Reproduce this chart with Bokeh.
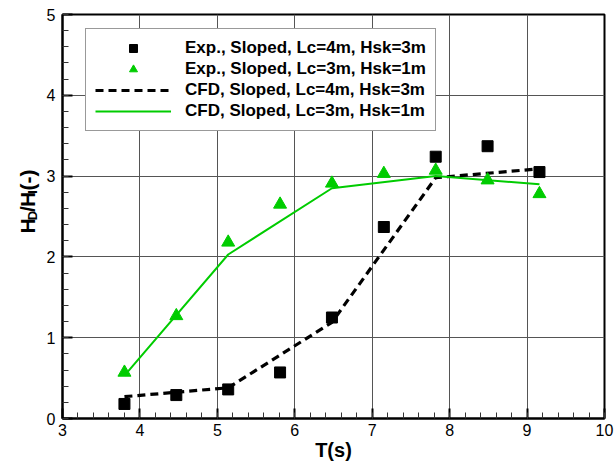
import math
from bokeh.plotting import figure
from bokeh.layouts import row
from bokeh.models import Range1d, SingleIntervalTicker, Legend, LegendItem
from bokeh.core.properties import value
from bokeh.embed import file_html
from bokeh.resources import INLINE

# ---- data ----
t_exp = [3.80, 4.47, 5.14, 5.81, 6.48, 7.15, 7.82, 8.49, 9.16]
hd_exp_lc4 = [0.18, 0.29, 0.36, 0.57, 1.25, 2.37, 3.24, 3.37, 3.05]
hd_exp_lc3 = [0.57, 1.27, 2.18, 2.65, 2.91, 3.03, 3.07, 2.95, 2.78]
t_cfd = [3.80, 5.14, 6.48, 7.82, 9.16]
hd_cfd_lc4 = [0.27, 0.38, 1.19, 2.98, 3.09]
hd_cfd_lc3 = [0.53, 2.03, 2.85, 3.00, 2.90]

labels = ["Exp., Sloped, Lc=4m, Hsk=3m",
          "Exp., Sloped, Lc=3m, Hsk=1m",
          "CFD, Sloped, Lc=4m, Hsk=3m",
          "CFD, Sloped, Lc=3m, Hsk=1m"]
x_title = "T(s)"
# y title pieces: (text, font size px, subscript?)
y_title = [("H", 21, False), ("D", 13, True), ("/", 21, False),
           ("H", 21, False), ("I", 13, True), ("(-)", 21, False)]

FONT = "Liberation Sans"
GREEN = "#00cc00"

X0, X1, Y0, Y1 = 3, 10, 0, 5
FW, FH = 542, 404
LW = 40          # width of the side strip holding the y title
W, H = 615, 461

p = figure(frame_width=FW, frame_height=FH, output_backend="svg",
           toolbar_location=None,
           x_range=Range1d(X0, X1), y_range=Range1d(Y0, Y1),
           min_border_left=62 - LW, min_border_top=14, min_border_right=10,
           min_border_bottom=40)
p.background_fill_color = "white"
p.border_fill_color = "white"
p.outline_line_color = "black"
p.outline_line_width = 2

for ax in (p.xaxis[0], p.yaxis[0]):
    ax.ticker = SingleIntervalTicker(interval=1, num_minor_ticks=5)
    ax.axis_line_width = 2
    ax.axis_line_color = "black"
    ax.major_tick_in = 10
    ax.major_tick_out = 0
    ax.minor_tick_in = 6
    ax.minor_tick_out = 0
    ax.major_tick_line_width = 2
    ax.minor_tick_line_width = 1
    ax.major_tick_line_color = "black"
    ax.minor_tick_line_color = "#333333"
    ax.major_label_text_font = FONT
    ax.major_label_text_font_size = "16px"
    ax.major_label_text_color = "black"

p.xaxis[0].major_label_standoff = 5
p.yaxis[0].major_label_standoff = 7
p.xaxis[0].axis_label = x_title
p.xaxis[0].axis_label_text_font = FONT
p.xaxis[0].axis_label_text_font_size = "20px"
p.xaxis[0].axis_label_text_font_style = "bold"
p.xaxis[0].axis_label_text_color = "black"
p.xaxis[0].axis_label_standoff = 0

for g in (p.xgrid[0], p.ygrid[0]):
    g.grid_line_color = "#555555"
    g.grid_line_width = 1

# lines
r_c4 = p.line(t_cfd, hd_cfd_lc4, line_color="black", line_width=3.2, line_dash="8 5")
r_c3 = p.line(t_cfd, hd_cfd_lc3, line_color=GREEN, line_width=2)
# markers
r_e4 = p.scatter(t_exp, hd_exp_lc4, marker="square", size=11,
                 fill_color="black", line_color="black")
r_e3 = p.scatter(t_exp, hd_exp_lc3, marker="triangle", size=13,
                 fill_color=GREEN, line_color=GREEN)

legend = Legend(items=[LegendItem(label=labels[0], renderers=[r_e4]),
                       LegendItem(label=labels[1], renderers=[r_e3]),
                       LegendItem(label=labels[2], renderers=[r_c4]),
                       LegendItem(label=labels[3], renderers=[r_c3])],
                location=(23, 287))
legend.label_text_font = FONT
legend.label_text_font_size = "17px"
legend.label_text_font_style = "bold"
legend.label_text_color = "black"
legend.glyph_width = 76
legend.glyph_height = 20
legend.label_height = 20
legend.label_standoff = 14
legend.spacing = 1
legend.padding = 9
legend.margin = 0
legend.border_line_color = "#333333"
legend.border_line_width = 1
legend.background_fill_color = "white"
legend.background_fill_alpha = 1
p.add_layout(legend, "center")

# ---- side strip with the y title (subscripts built from pieces) ----
q = figure(width=LW, height=H, output_backend="svg", toolbar_location=None,
           x_range=Range1d(0, LW), y_range=Range1d(H, 0),
           min_border=0, min_border_left=0, min_border_right=0,
           min_border_top=0, min_border_bottom=0)
q.axis.visible = False
q.grid.visible = False
q.outline_line_color = None
q.background_fill_color = "white"
q.border_fill_color = "white"

widths = {"H": 0.722, "D": 0.722, "/": 0.278, "I": 0.278, "(-)": 0.999}
base_x = 27
total = sum(widths[t] * s for t, s, _ in y_title)
cy = 216 + total / 2
for t, s, sub in y_title:
    q.text(x=[base_x + (5 if sub else 0)], y=[cy], text=[t], angle=math.pi / 2,
           text_font=value(FONT), text_font_size=value(f"{s}px"),
           text_font_style="bold", text_color="black",
           text_align="left", text_baseline="alphabetic")
    cy -= widths[t] * s

layout = row(q, p, spacing=0)
open("out.html", "w").write(file_html(layout, INLINE))
